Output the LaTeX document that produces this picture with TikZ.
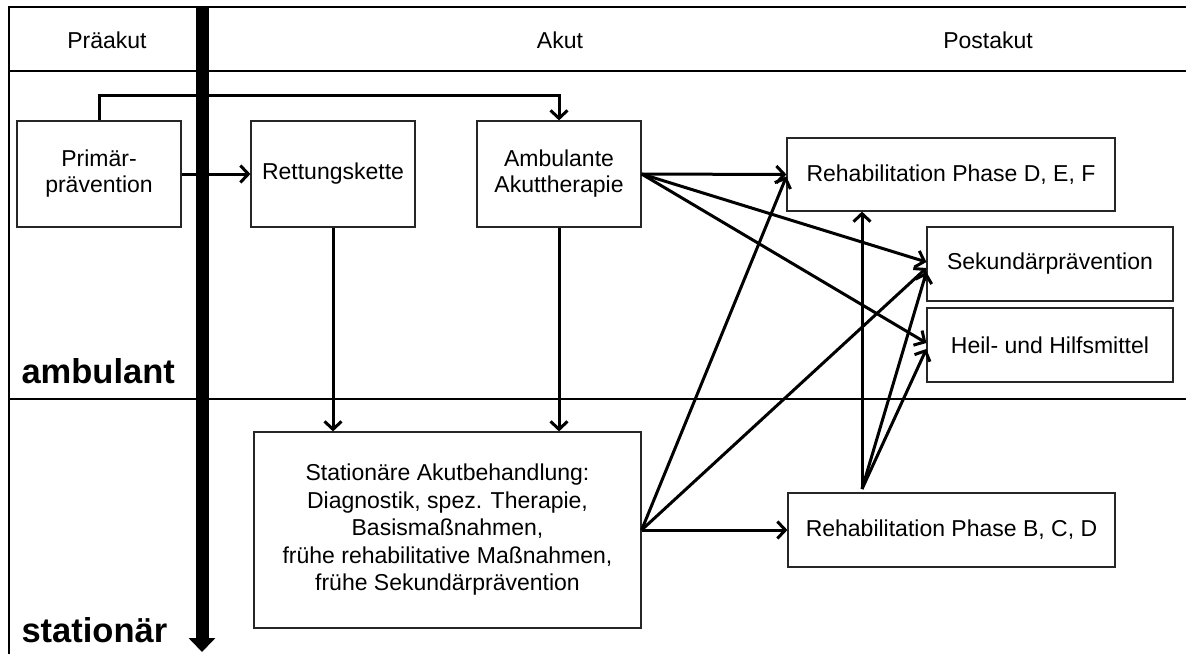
\documentclass[tikz,border=0pt]{standalone}
\usepackage{fontspec}
\setmainfont{Liberation Sans}
\usetikzlibrary{arrows.meta}
\begin{document}
\begin{tikzpicture}[x=1pt, y=-1pt, font=\fontsize{23}{26}\selectfont,
	box/.style={draw=black!85, line width=1.2pt, align=center, inner sep=0pt},
	pfeil/.style={line width=3pt, -{Straight Barb[length=8pt,width=17pt]}},
	rahmen/.style={line width=1.5pt},
	bereich/.style={anchor=base west, font=\bfseries\fontsize{34.5}{40}\selectfont}]
	\useasboundingbox (0,0) rectangle (1186,654);
	% Rahmen und Zeilen
	\draw[rahmen] (1186,7)--(9,7)--(9,654);
	\draw[rahmen] (9,71)--(1186,71);
	\draw[rahmen] (9,399)--(1186,399);
	\node (praeakut) at (107,40) {Präakut};
	\node (akut) at (560,40) {Akut};
	\node (postakut) at (988,40) {Postakut};
	\node[bereich] (ambulant) at (18,383) {ambulant};
	\node[bereich] (stationaer) at (18,642) {stationär};
	% Zeitachse
	\draw[line width=13pt, -{Triangle[length=14pt,width=26pt]}] (202,7)--(202,652);
	% Kaesten
	\node[box, minimum width=164pt, minimum height=106pt] (prim) at (99,174) {Primär-\\prävention};
	\node[box, minimum width=164pt, minimum height=106pt] (rett) at (333,174) {Rettungskette};
	\node[box, minimum width=164pt, minimum height=106pt] (amb) at (559,174) {Ambulante\\Akuttherapie};
	\node[box, minimum width=328pt, minimum height=73pt] (dfe) at (951,174.5) {Rehabilitation Phase D, E, F};
	\node[box, minimum width=246pt, minimum height=74pt] (sek) at (1050,264) {Sekundärprävention};
	\node[box, minimum width=246pt, minimum height=74pt] (heil) at (1050,345) {Heil- und Hilfsmittel};
	\node[box, minimum width=387pt, minimum height=196pt, font=\fontsize{23}{27.5}\selectfont] (stat) at (447.5,530)
		{Stationäre Akutbehandlung:\\Diagnostik, spez. Therapie,\\Basismaßnahmen,\\frühe rehabilitative Maßnahmen,\\frühe Sekundärprävention};
	\node[box, minimum width=327pt, minimum height=74pt] (bcd) at (951.5,530) {Rehabilitation Phase B, C, D};
	\coordinate (knoten) at (862,489);
	% Pfeile
	\draw[pfeil] (prim)--(rett);
	\draw[pfeil] (prim.north)--++(0,-25)-|(amb.north);
	\draw[pfeil] (rett)--(rett |- stat.north);
	\draw[pfeil] (amb)--(amb |- stat.north);
	\draw[pfeil] (amb.east)--(dfe.west);
	\draw[pfeil] (amb.east)--([yshift=2pt]sek.west);
	\draw[pfeil] (amb.east)--([yshift=2pt]heil.west);
	\draw[pfeil] (stat.east)--([yshift=-2pt]dfe.west);
	\draw[pfeil] (stat.east)--([yshift=-4pt]sek.west);
	\draw[pfeil] (stat.east)--(bcd.west);
	\draw[pfeil] (knoten)--(knoten |- dfe.south);
	\draw[pfeil] (knoten)--([yshift=-8pt]sek.west);
	\draw[pfeil] (knoten)--([yshift=-4pt]heil.west);
\end{tikzpicture}
\end{document}
